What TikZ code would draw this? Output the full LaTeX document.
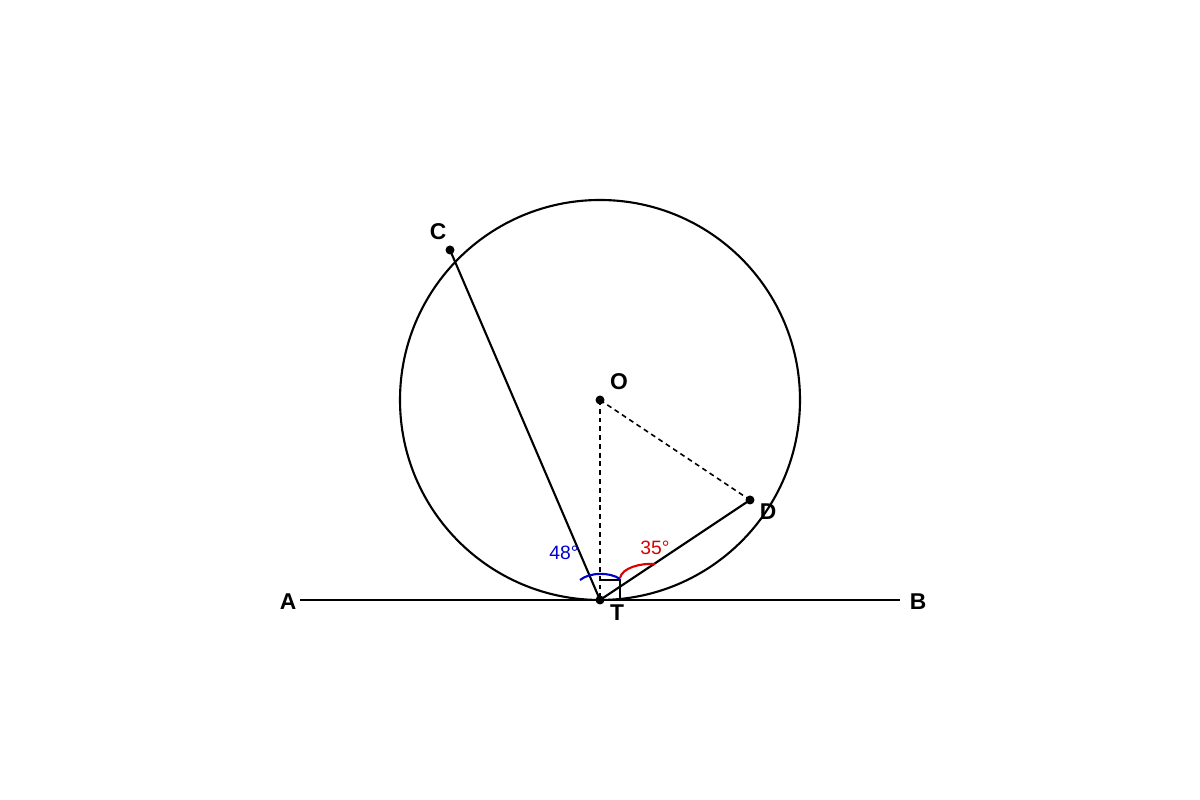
\documentclass[tikz,border=0pt]{standalone}
\usepackage{fontspec}
\setmainfont{Liberation Sans}
\usepackage{xcolor}
\usepackage{tikz}
\usetikzlibrary{positioning}

\begin{document}
\begin{tikzpicture}[
    line/.style={line width=0.6pt},
    hidden/.style={line width=0.45pt, dash pattern=on 1.4pt off 1.1pt},
    dot/.style={circle, fill=black, inner sep=0pt, minimum size=0.09cm},
    lbl/.style={font=\fontsize{6.5}{7}\selectfont\bfseries, inner sep=0pt},
    anglbl/.style={font=\fontsize{5.5}{6}\selectfont, inner sep=0pt}
]
\useasboundingbox (0,0) rectangle (12,8);

% Points
\node[dot] (T) at (6,2) {};
\node[dot] (O) at (6,4) {};
\node[dot] (C) at (4.5,5.5) {};
\node[dot] (D) at (7.5,3) {};
\coordinate (A) at (3,2);
\coordinate (B) at (9,2);

% Circle and tangent
\draw[line] (O.center) circle (2);
\draw[line] (A) -- (B);

% Chords
\draw[line] (T.center) -- (C.center);
\draw[line] (T.center) -- (D.center);
\draw[hidden] (O.center) -- (T.center);
\draw[hidden] (O.center) -- (D.center);

% Right angle
\draw[line width=0.45pt] (6,2.2) -- (6.2,2.2) -- (6.2,2);

% Angle marks
\draw[line, blue!80!black] (5.8,2.2) .. controls (5.9,2.28) and (6.1,2.28) .. (6.2,2.21);
\draw[line, red!85!black] (6.2,2.22) .. controls (6.22,2.32) and (6.4,2.37) .. (6.55,2.36);

% Labels
\node[lbl] (labelA) at (2.88,1.98) {A};
\node[lbl] (labelB) at (9.18,1.98) {B};
\node[lbl] (labelC) at (4.38,5.68) {C};
\node[lbl] (labelO) at (6.19,4.18) {O};
\node[lbl] (labelD) at (7.68,2.88) {D};
\node[lbl] (labelT) at (6.17,1.87) {T};
\node[anglbl, text=blue!80!black] (ang48) at (5.64,2.47) {48°};
\node[anglbl, text=red!85!black] (ang35) at (6.55,2.52) {35°};

\end{tikzpicture}
\end{document}
